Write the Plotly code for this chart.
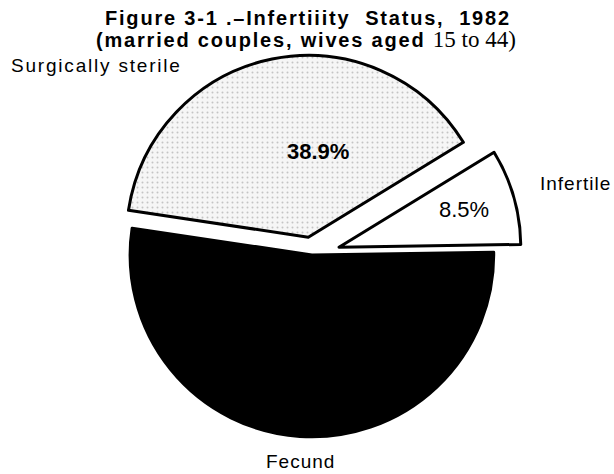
import plotly.graph_objects as go

# Data
categories = ["Surgically sterile", "Infertile", "Fecund"]
values = [38.9, 8.5, 52.6]
show_pct = [True, True, False]
pct_bold = [True, False, False]
title_line1 = "Figure 3-1 .–Infertiiity  Status,  1982"
title_line2a = "(married couples, wives aged "
title_line2b = "15 to 44)"

SANS = "Liberation Sans, Arial, sans-serif"

fig = go.Figure()
fig.add_trace(go.Pie(
    labels=categories,
    values=values,
    sort=False,
    direction="clockwise",
    rotation=-81.5,
    pull=[0.1, 0.155, 0.0],
    textinfo="none",
    marker=dict(
        colors=["#f2f2f2", "white", "black"],
        line=dict(color="black", width=3),
        pattern=dict(shape=[".", "", ""], fgcolor="#c4c4c4", bgcolor="#f6f6f6",
                     size=5, solidity=0.12, fillmode="replace"),
    ),
    domain=dict(x=[0.166, 0.850], y=[0.019, 0.905]),
    showlegend=False,
    hoverinfo="label+percent",
))

W, H = 614, 474

# category labels (position, anchor, letter spacing)
label_style = {
    "Surgically sterile": dict(x=97, y=65, xanchor="center", yanchor="middle", ls=1.8),
    "Infertile": dict(x=613, y=184, xanchor="right", yanchor="middle", ls=1.0),
    "Fecund": dict(x=300, y=474, xanchor="center", yanchor="bottom", ls=1.0),
}
for name in categories:
    s = label_style[name]
    fig.add_annotation(text=f"<span style='letter-spacing:{s['ls']}px'>{name}</span>",
                       x=s["x"] / W, y=1 - s["y"] / H, xref="paper", yref="paper",
                       showarrow=False, xanchor=s["xanchor"], yanchor=s["yanchor"],
                       font=dict(family=SANS, size=19, color="black"))

# percentage labels inside slices
pct_pos = {"Surgically sterile": (318, 151), "Infertile": (464, 209)}
for name, v, show, bold in zip(categories, values, show_pct, pct_bold):
    if not show:
        continue
    t = f"{v:.1f}%"
    if bold:
        t = f"<b>{t}</b>"
    px, py = pct_pos[name]
    fig.add_annotation(text=t, x=px / W, y=1 - py / H, xref="paper", yref="paper",
                       showarrow=False, xanchor="center", yanchor="middle",
                       font=dict(family=SANS, size=22, color="black"))

fig.add_annotation(text=f"<span style='letter-spacing:1.8px'><b>{title_line1}</b></span>",
                   x=308 / W, y=1 - 18 / H, xref="paper", yref="paper",
                   showarrow=False, xanchor="center", yanchor="middle",
                   font=dict(family=SANS, size=20, color="black"))
fig.add_annotation(text=(f"<span style='letter-spacing:1.8px'><b>{title_line2a}</b></span>"
                         f"<span style=\"font-family:'Liberation Serif';font-size:23px\">{title_line2b}</span>"),
                   x=306 / W, y=1 - 40 / H, xref="paper", yref="paper",
                   showarrow=False, xanchor="center", yanchor="middle",
                   font=dict(family=SANS, size=20, color="black"))

fig.update_layout(
    width=W, height=H,
    margin=dict(l=0, r=0, t=0, b=0),
    paper_bgcolor="white", plot_bgcolor="white",
)

fig.write_html("out.html", config={"displayModeBar": False},
               post_script="document.body.style.margin='0';document.body.style.overflow='hidden';")
